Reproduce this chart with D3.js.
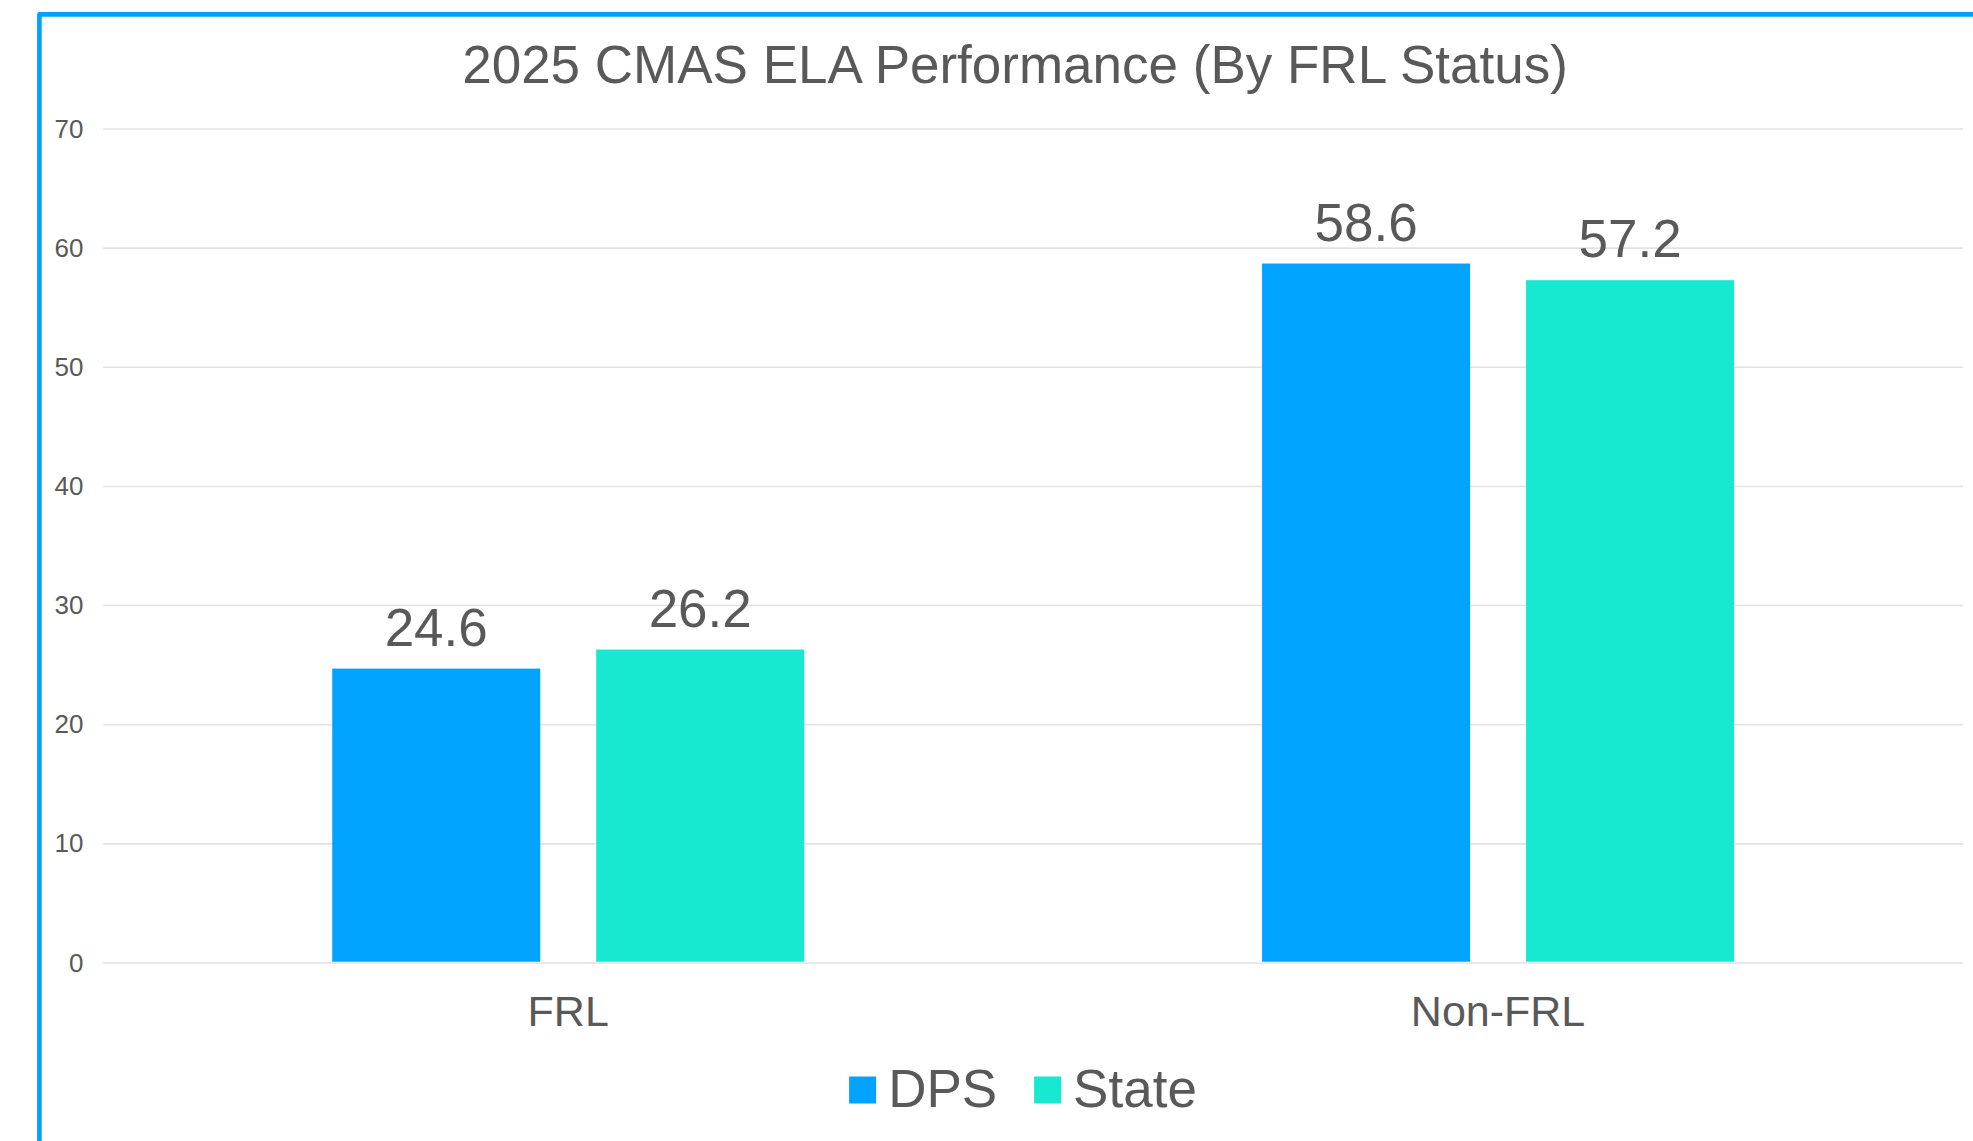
<!DOCTYPE html>
<html>
<head>
<meta charset="utf-8">
<script src="https://cdn.jsdelivr.net/npm/d3@7"></script>
<style>
  html, body { margin: 0; padding: 0; background: #ffffff; }
  svg { display: block; font-family: "Liberation Sans", Arial, sans-serif; }
</style>
</head>
<body>
<svg id="chart" width="1973" height="1141"></svg>
<script>
// ---- Data ----
const titleText = "2025 CMAS ELA Performance (By FRL Status)";
const categories = ["FRL", "Non-FRL"];
const seriesNames = ["DPS", "State"];
const dpsValues = [24.6, 58.6];
const stateValues = [26.2, 57.2];
const yTickValues = [0, 10, 20, 30, 40, 50, 60, 70];

// ---- Styles ----
const seriesColors = { DPS: "#00A3FF", State: "#17E8D1" };
const textColor = "#595959";
const gridColor = "#e2e2e2";
const borderColor = "#00A2FF";

const seriesValues = { DPS: dpsValues, State: stateValues };
const rows = categories.map((c, i) => ({
  category: c,
  values: seriesNames.map(s => ({ series: s, value: seriesValues[s][i] }))
}));

const W = 1973, H = 1141;
const plot = { left: 103.3, right: 1963, top: 127.7, bottom: 961.7 };

const svg = d3.select("#chart");

// Border (left + top edge)
svg.append("path")
  .attr("d", `M39.4,${H + 5} V14.4 H${W + 5}`)
  .attr("fill", "none")
  .attr("stroke", borderColor)
  .attr("stroke-width", 4.6)
  .attr("stroke-linejoin", "round");

const y = d3.scaleLinear().domain([0, 70]).range([plot.bottom, plot.top]);
const x0 = d3.scaleBand().domain(categories).range([plot.left, plot.right]).paddingInner(0).paddingOuter(0);
const groupWidth = 472;
const x1 = d3.scaleBand().domain(seriesNames).range([0, groupWidth]).paddingInner(0.212).paddingOuter(0);
const groupOffset = (x0.bandwidth() - groupWidth) / 2;

// Gridlines
const grid = svg.append("g")
  .attr("transform", `translate(${plot.left},0)`)
  .call(d3.axisLeft(y).tickValues(yTickValues).tickSize(-(plot.right - plot.left)).tickFormat(""));
grid.select(".domain").remove();
grid.selectAll(".tick line").attr("stroke", gridColor).attr("stroke-width", 1.6)
  .attr("transform", "translate(0,0.8)");

// Y tick labels
const yAxis = svg.append("g")
  .attr("transform", `translate(${plot.left},0)`)
  .call(d3.axisLeft(y).tickValues(yTickValues).tickSize(0).tickPadding(19.8));
yAxis.select(".domain").remove();
yAxis.selectAll(".tick text")
  .attr("fill", textColor)
  .style("font-size", "26px")
  .style("font-family", "'Liberation Sans', Arial, sans-serif")
  .attr("dy", "0.36em");

// Bars
const groups = svg.append("g").selectAll("g.group")
  .data(rows).join("g")
  .attr("class", "group")
  .attr("transform", d => `translate(${x0(d.category) + groupOffset},0)`);

groups.selectAll("rect")
  .data(d => d.values).join("rect")
  .attr("x", d => x1(d.series))
  .attr("width", x1.bandwidth())
  .attr("y", d => y(d.value))
  .attr("height", d => y(0) - y(d.value))
  .attr("fill", d => seriesColors[d.series]);

// Data labels
groups.selectAll("text.label")
  .data(d => d.values).join("text")
  .attr("class", "label")
  .attr("x", d => x1(d.series) + x1.bandwidth() / 2)
  .attr("y", d => y(d.value) - 23)
  .attr("text-anchor", "middle")
  .attr("fill", textColor)
  .style("font-size", "53px")
  .text(d => d3.format(".1f")(d.value));

// Category labels
svg.append("g").selectAll("text")
  .data(categories).join("text")
  .attr("x", d => x0(d) + x0.bandwidth() / 2)
  .attr("y", 1026)
  .attr("text-anchor", "middle")
  .attr("fill", textColor)
  .style("font-size", "43px")
  .text(d => d);

// Title
svg.append("text")
  .attr("x", 1015)
  .attr("y", 83.3)
  .attr("text-anchor", "middle")
  .attr("fill", textColor)
  .style("font-size", "53px")
  .text(titleText);

// Legend
const legend = svg.append("g");
const sq = 27, sqGap = 12, itemGap = 37;
let lx = 0;
const items = legend.selectAll("g").data(seriesNames).join("g");
items.append("rect")
  .attr("y", 1076.5)
  .attr("width", sq).attr("height", sq)
  .attr("fill", d => seriesColors[d]);
items.append("text")
  .attr("x", sq + sqGap)
  .attr("y", 1106.7)
  .attr("fill", textColor)
  .style("font-size", "53px")
  .text(d => d);
items.each(function() {
  const g = d3.select(this);
  g.attr("transform", `translate(${lx},0)`);
  const tw = g.select("text").node().getComputedTextLength();
  lx += sq + sqGap + tw + itemGap;
});
const totalW = lx - itemGap;
legend.attr("transform", `translate(${1023 - totalW / 2},0)`);
</script>
</body>
</html>
